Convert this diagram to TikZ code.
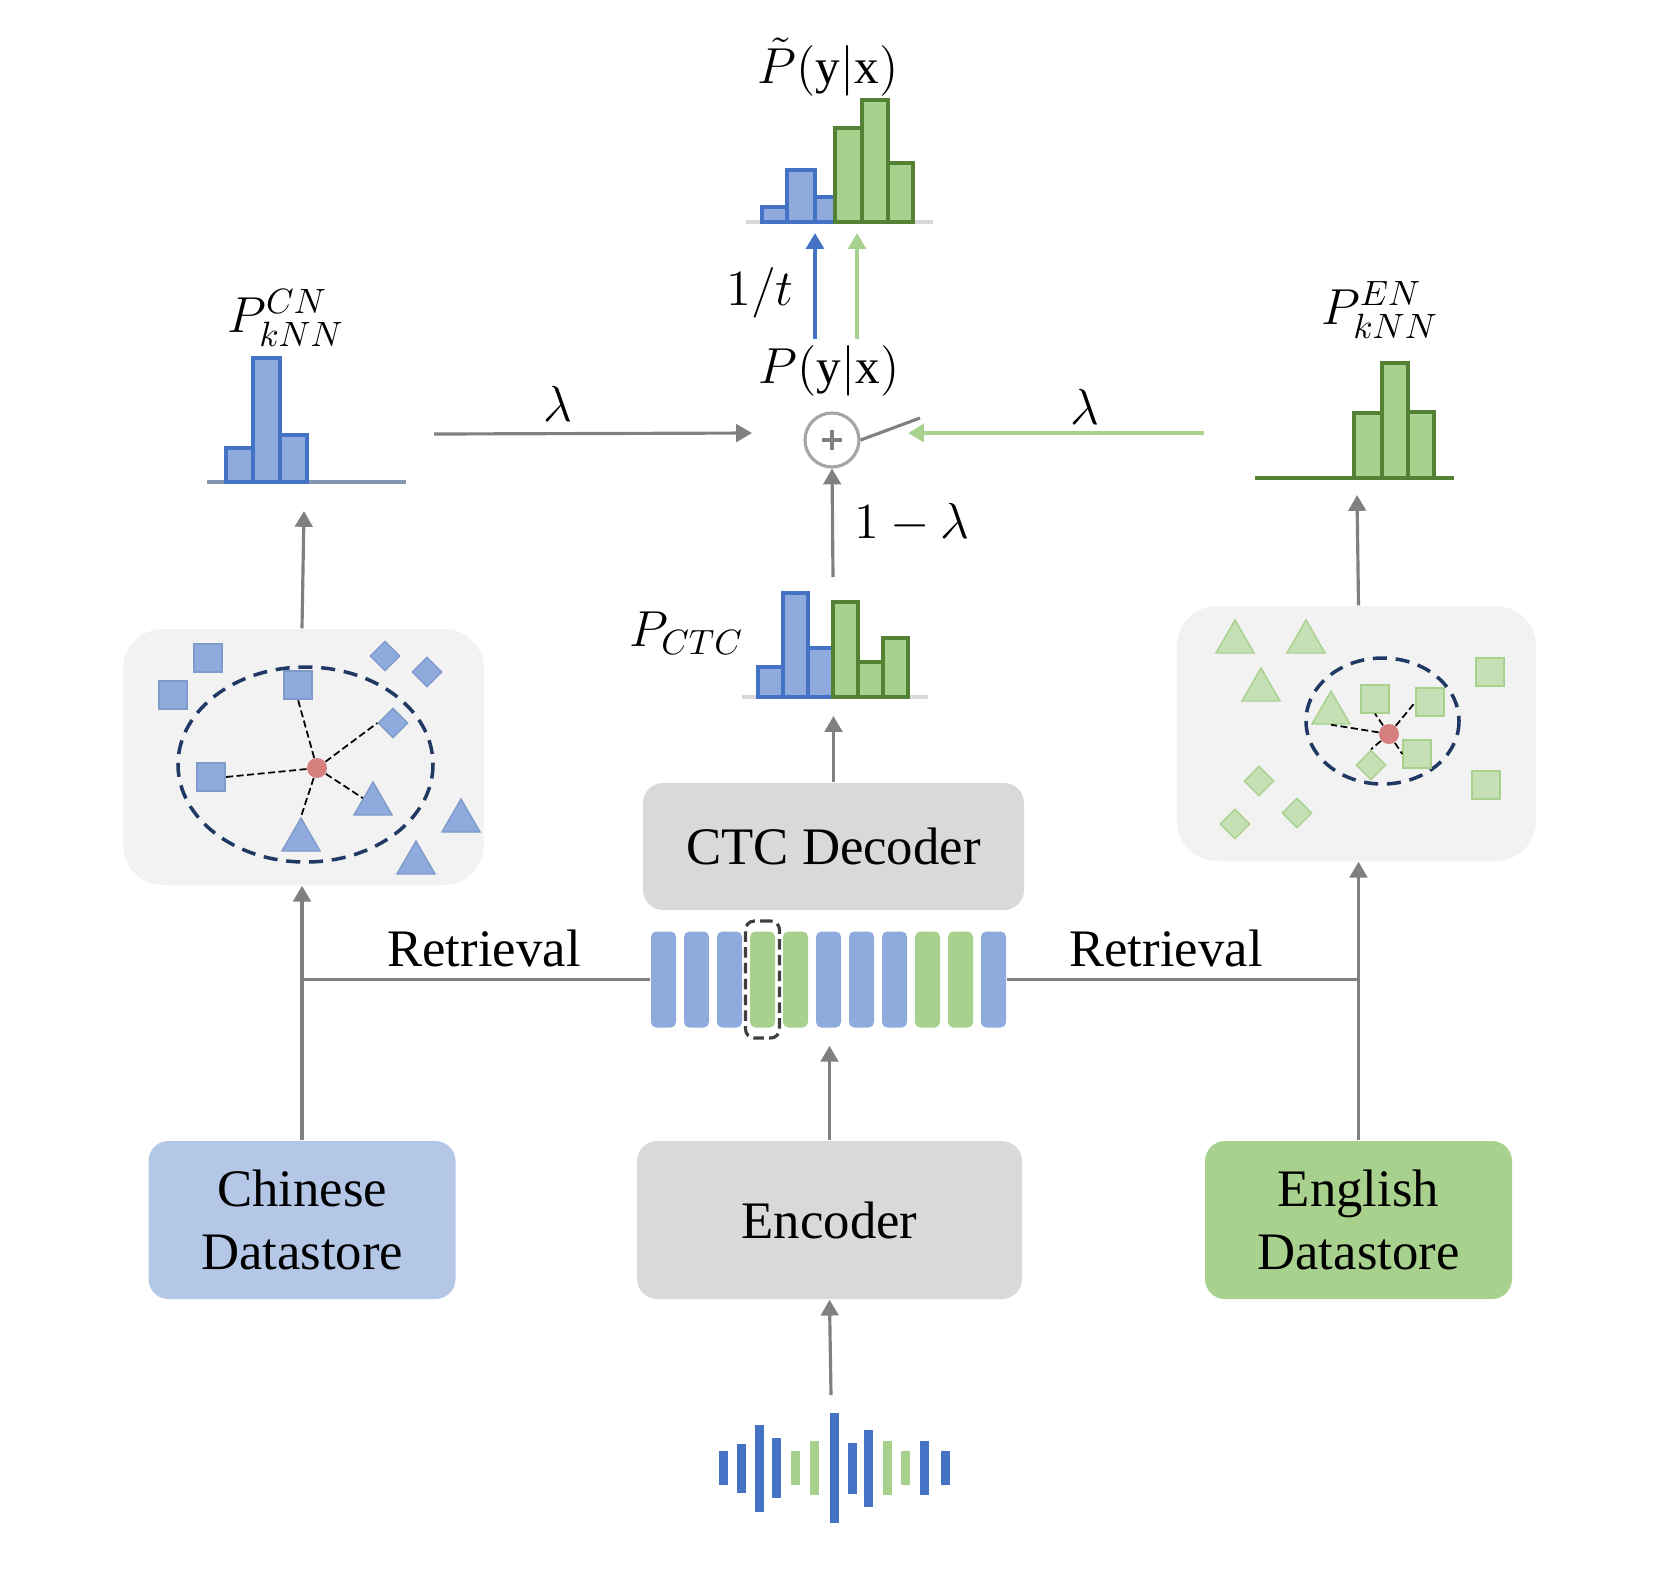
\documentclass[tikz,border=0pt]{standalone}
\usepackage{amsmath}
\usepackage{fontspec}
\setmainfont{Liberation Serif}
\usetikzlibrary{arrows.meta}
\usetikzlibrary{shapes.geometric}
\definecolor{lineGray}{HTML}{808080}
\definecolor{ringGray}{HTML}{A6A6A6}
\definecolor{boxGray}{HTML}{D9D9D9}
\definecolor{spaceGray}{HTML}{F2F2F2}
\definecolor{cnBlue}{HTML}{B4C7E7}
\definecolor{barBlue}{HTML}{8FAADC}
\definecolor{edgeBlue}{HTML}{4472C4}
\definecolor{ptBlueEdge}{HTML}{7F9BCB}
\definecolor{barGreen}{HTML}{A9D18E}
\definecolor{edgeGreen}{HTML}{548235}
\definecolor{ptGreen}{HTML}{C5E0B4}
\definecolor{navy}{HTML}{1F3864}
\definecolor{query}{HTML}{D57F7F}
\definecolor{axisBlue}{HTML}{8497B0}

\tikzset{
	arr/.style={draw=lineGray, line width=0.9pt, -{Triangle[length=4.5pt,width=5pt]}},
	link/.style={draw=lineGray, line width=0.9pt},
	block/.style={rounded corners=0.2cm, align=center, inner sep=0pt, font=\fontsize{15}{18}\selectfont},
	knnspace/.style={fill=spaceGray, rounded corners=0.4cm, inner sep=0pt},
	token/.style={rounded corners=1.5pt, inner sep=0pt, minimum width=0.25cm, minimum height=0.96cm},
	lbl/.style={font=\fontsize{15}{18}\selectfont, inner sep=1pt},
	mlbl/.style={font=\fontsize{14}{17}\selectfont, inner sep=1pt},
	cnsq/.style={rectangle, fill=barBlue, draw=ptBlueEdge, line width=0.4pt, minimum size=0.28cm, inner sep=0pt},
	cndia/.style={diamond, fill=barBlue, draw=ptBlueEdge, line width=0.4pt, minimum width=0.3cm, minimum height=0.3cm, inner sep=0pt},
	cntri/.style={regular polygon, regular polygon sides=3, fill=barBlue, draw=ptBlueEdge, line width=0.4pt, minimum size=0.44cm, inner sep=0pt},
	ensq/.style={cnsq, fill=ptGreen, draw=barGreen},
	endia/.style={cndia, fill=ptGreen, draw=barGreen},
	entri/.style={cntri, fill=ptGreen, draw=barGreen},
	nbr/.style={draw=black, line width=0.5pt, dash pattern=on 2pt off 1pt},
	ring/.style={draw=navy, line width=1pt, dash pattern=on 4pt off 2.5pt},
	qry/.style={circle, fill=query, minimum size=0.2cm, inner sep=0pt},
	cnbar/.style={fill=barBlue, draw=edgeBlue, line width=0.9pt},
	enbar/.style={fill=barGreen, draw=edgeGreen, line width=0.9pt},
}

\begin{document}
\begin{tikzpicture}[yscale=-1]
	\useasboundingbox (0,0) rectangle (16.6,15.72);
	% bottom row
	\node[block, fill=cnBlue, minimum width=3.07cm, minimum height=1.58cm] (cnstore) at (3.02,12.20) {Chinese\\Datastore};
	\node[block, fill=boxGray, minimum width=3.85cm, minimum height=1.58cm] (enc) at (8.295,12.20) {Encoder};
	\node[block, fill=barGreen, minimum width=3.07cm, minimum height=1.58cm] (enstore) at (13.585,12.20) {English\\Datastore};
	\node[block, fill=boxGray, minimum width=3.81cm, minimum height=1.27cm] (ctc) at (8.335,8.465) {CTC Decoder};
	% waveform
	\foreach \x/\h/\c in {7.23/0.17/edgeBlue, 7.41/0.245/edgeBlue, 7.59/0.435/edgeBlue, 7.76/0.30/edgeBlue, 7.95/0.17/barGreen, 8.14/0.27/barGreen, 8.34/0.55/edgeBlue, 8.52/0.255/edgeBlue, 8.68/0.385/edgeBlue, 8.87/0.27/barGreen, 9.05/0.17/barGreen, 9.24/0.27/edgeBlue, 9.45/0.17/edgeBlue}
		\fill[\c] (\x-0.045,14.68-\h) rectangle (\x+0.045,14.68+\h);
	\coordinate (wavetop) at (8.31,13.95);
	\draw[arr] (wavetop) -- (enc.south);
	% encoder states
	\foreach \c [count=\i] in {barBlue,barBlue,barBlue,barGreen,barGreen,barBlue,barBlue,barBlue,barGreen,barGreen,barBlue}
		\node[token, fill=\c] (t\i) at ({6.635+0.33*(\i-1)},9.795) {};
	\node[draw=black!75, line width=0.9pt, dash pattern=on 3pt off 1.5pt, rounded corners=2.5pt, minimum width=0.34cm, minimum height=1.17cm] (pick) at (t4) {};
	\draw[arr, shorten >=5pt] (enc.north) -- (enc.north |- t6.south);
	% retrieval
	\coordinate (cnjoin) at (cnstore.north |- t1.west);
	\coordinate (enjoin) at (enstore.north |- t11.east);
	\draw[link] (t1.west) -- (cnjoin);
	\draw[link] (t11.east) -- (enjoin);
	\node[lbl] (retL) at (4.84,9.48) {Retrieval};
	\node[lbl] (retR) at (11.66,9.48) {Retrieval};
	% kNN spaces
	\node[knnspace, minimum width=3.61cm, minimum height=2.56cm] (cnspace) at (3.035,7.57) {};
	\node[knnspace, minimum width=3.59cm, minimum height=2.55cm] (enspace) at (13.565,7.335) {};
	\draw[arr] (cnstore.north) -- (cnstore.north |- cnspace.south);
	\draw[arr] (enstore.north) -- (enstore.north |- enspace.south);
	% chinese points
	\draw[ring] (3.055,7.645) ellipse [x radius=1.275, y radius=0.975];
	\node[cnsq] (cs1) at (2.08,6.58) {};
	\node[cnsq] (cs2) at (1.73,6.95) {};
	\node[cnsq] (cs3) at (2.98,6.85) {};
	\node[cnsq] (cs4) at (2.11,7.77) {};
	\node[cndia] (cd1) at (3.85,6.56) {};
	\node[cndia] (cd2) at (4.27,6.72) {};
	\node[cndia] (cd3) at (3.93,7.23) {};
	\node[cntri] (ct1) at (3.73,8.04) {};
	\node[cntri] (ct2) at (3.01,8.40) {};
	\node[cntri] (ct3) at (4.61,8.21) {};
	\node[cntri] (ct4) at (4.16,8.63) {};
	\coordinate (cq) at (3.17,7.68);
	\draw[nbr] (cq) -- (cs3.south);
	\draw[nbr] (cq) -- (cd3.west);
	\draw[nbr] (cq) -- (cs4.east);
	\draw[nbr] (cq) -- (ct1.side 1);
	\draw[nbr] (cq) -- (ct2.corner 1);
	\node[qry] (cqdot) at (cq) {};
	% english points
	\draw[ring] (13.825,7.21) ellipse [x radius=0.765, y radius=0.63];
	\node[entri] (et1) at (12.35,6.42) {};
	\node[entri] (et2) at (13.06,6.42) {};
	\node[entri] (et3) at (12.61,6.90) {};
	\node[entri] (et4) at (13.31,7.13) {};
	\node[ensq] (es1) at (13.75,6.99) {};
	\node[ensq] (es2) at (14.30,7.02) {};
	\node[ensq] (es3) at (14.17,7.54) {};
	\node[ensq] (es4) at (14.90,6.72) {};
	\node[ensq] (es5) at (14.86,7.85) {};
	\node[endia] (ed1) at (13.71,7.65) {};
	\node[endia] (ed2) at (12.59,7.81) {};
	\node[endia] (ed3) at (12.97,8.13) {};
	\node[endia] (ed4) at (12.35,8.24) {};
	\coordinate (eq) at (13.89,7.34);
	\draw[nbr] (eq) -- (et4.side 2);
	\draw[nbr] (eq) -- (es1.south);
	\draw[nbr] (eq) -- (es2.west);
	\draw[nbr] (eq) -- (es3.west);
	\draw[nbr] (eq) -- (ed1.north);
	\node[qry] (eqdot) at (eq) {};
	% kNN distributions
	\coordinate (cnhist) at (3.04,5.11);
	\coordinate (enhist) at (13.57,4.95);
	\draw[arr] (cnspace.north -| cnstore.north) -- (cnhist);
	\draw[arr] (enspace.north -| enstore.north) -- (enhist);
	\draw[axisBlue, line width=0.9pt] (2.07,4.82) -- (4.06,4.82);
	\foreach \a/\b/\t in {2.26/2.53/4.48, 2.53/2.80/3.58, 2.80/3.07/4.35}
		\draw[cnbar] (\a,4.82) rectangle (\b,\t);
	\draw[edgeGreen, line width=0.9pt] (12.55,4.78) -- (14.54,4.78);
	\foreach \a/\b/\t in {13.54/13.82/4.13, 13.82/14.08/3.63, 14.08/14.34/4.12}
		\draw[enbar] (\a,4.78) rectangle (\b,\t);
	\node[mlbl] (pcn) at (2.86,3.18) {$P_{kNN}^{CN}$};
	\node[mlbl] (pen) at (13.80,3.10) {$P_{kNN}^{EN}$};
	% CTC distribution
	\coordinate (ctcin) at (8.335,7.16);
	\draw[arr] (ctc.north) -- (ctcin);
	\draw[boxGray, line width=0.9pt] (7.42,6.97) -- (9.28,6.97);
	\foreach \a/\b/\t in {7.58/7.83/6.67, 7.83/8.08/5.93, 8.08/8.33/6.48}
		\draw[cnbar] (\a,6.97) rectangle (\b,\t);
	\foreach \a/\b/\t in {8.33/8.58/6.02, 8.58/8.83/6.62, 8.83/9.08/6.38}
		\draw[enbar] (\a,6.97) rectangle (\b,\t);
	\node[mlbl, anchor=east] (pctc) at (7.48,6.33) {$P_{CTC}$};
	% interpolation
	\node[circle, draw=ringGray, line width=0.9pt, minimum size=0.54cm, inner sep=0pt] (plus) at (8.32,4.40) {};
	\draw[lineGray, line width=0.9pt] ([xshift=-0.1cm]plus.center) -- ([xshift=0.1cm]plus.center);
	\draw[lineGray, line width=0.9pt] ([yshift=-0.1cm]plus.center) -- ([yshift=0.1cm]plus.center);
	\coordinate (ctcout) at (8.33,5.77);
	\draw[arr] (ctcout) -- (plus.south);
	\node[mlbl, anchor=west] (lam) at (8.50,5.23) {$1-\lambda$};
	\coordinate (lamfrom) at (4.34,4.34);
	\coordinate (lamto) at (7.52,4.33);
	\draw[arr] (lamfrom) -- (lamto);
	\node[mlbl] (lamL) at (5.58,4.04) {$\lambda$};
	\coordinate (swend) at (9.20,4.18);
	\draw[link] (plus.east) -- (swend);
	\coordinate (enfrom) at (12.04,4.33);
	\coordinate (swin) at (9.08,4.33);
	\draw[draw=barGreen, line width=1.4pt, -{Triangle[length=4.5pt,width=5pt]}] (enfrom) -- (swin);
	\node[mlbl] (lamR) at (10.85,4.07) {$\lambda$};
	\node[mlbl] (pyx) at (8.29,3.71) {$P(\mathrm{y}|\mathrm{x})$};
	% temperature
	\coordinate (bl0) at (8.15,3.39);
	\coordinate (bl1) at (8.15,2.33);
	\coordinate (gr0) at (8.57,3.39);
	\coordinate (gr1) at (8.57,2.33);
	\draw[draw=edgeBlue, line width=1.2pt, -{Triangle[length=4.5pt,width=5pt]}] (bl0) -- (bl1);
	\draw[draw=barGreen, line width=1.2pt, -{Triangle[length=4.5pt,width=5pt]}] (gr0) -- (gr1);
	\node[mlbl] (temp) at (7.60,2.93) {$1/t$};
	% final distribution
	\draw[boxGray, line width=0.9pt] (7.46,2.22) -- (9.33,2.22);
	\foreach \a/\b/\t in {7.62/7.87/2.07, 7.87/8.15/1.70, 8.15/8.35/1.97}
		\draw[cnbar] (\a,2.22) rectangle (\b,\t);
	\foreach \a/\b/\t in {8.35/8.62/1.28, 8.62/8.88/1.00, 8.88/9.13/1.63}
		\draw[enbar] (\a,2.22) rectangle (\b,\t);
	\node[mlbl] (pfin) at (8.28,0.67) {$\tilde{P}(\mathrm{y}|\mathrm{x})$};
\end{tikzpicture}
\end{document}
